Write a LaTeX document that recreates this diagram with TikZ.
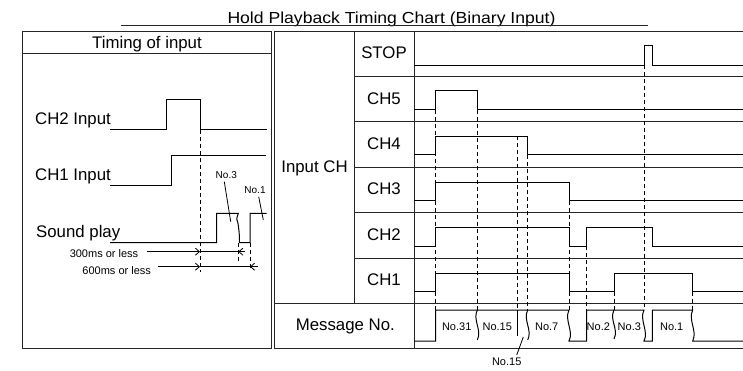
\documentclass[tikz,border=0pt]{standalone}
\usepackage{fontspec}
\setmainfont{Liberation Sans}
\newfontfamily\titlefont[FakeStretch=1.1]{Liberation Sans}
\usetikzlibrary{arrows.meta}
\begin{document}
\begin{tikzpicture}[x=1pt,y=-1pt,
  frame/.style={draw=black!85, line width=1pt},
  sig/.style={draw=black, line width=1pt},
  guide/.style={draw=black, line width=0.8pt, dash pattern=on 4pt off 3pt},
  lead/.style={draw=black, line width=0.8pt},
  big/.style={font=\fontsize{16.8}{18}\selectfont, inner sep=0pt, anchor=base},
  small/.style={font=\fontsize{11}{12}\selectfont, inner sep=0pt, anchor=base},
  tiny/.style={font=\fontsize{10}{11}\selectfont, inner sep=0pt, anchor=base},
  dim/.style={-{Straight Barb[length=4pt,width=7pt]}, line width=0.8pt},
]
\useasboundingbox (0,0) rectangle (743,371);

% title
\node[anchor=base, inner sep=0pt, font=\titlefont\fontsize{16}{18}\selectfont] (title) at (391.5,23.3) {Hold Playback Timing Chart (Binary Input)};
\draw[frame] (121,25.5) -- (648,25.5);

% left panel frame
\draw[frame] (22,31.7) rectangle (271.5,348.3);
\draw[frame] (22,53.3) -- (271.5,53.3);
\node[big] (timing) at (147,48.3) {Timing of input};

% right panel frame
\draw[frame] (743,31.7) -- (274.5,31.7) -- (274.5,348.3) -- (743,348.3);
\draw[frame] (354.3,31.7) -- (354.3,303.3);
\draw[frame] (414,31.7) -- (414,348.3);
\foreach \yy in {76.5,121.7,167.3,212.5,258.3}
  \draw[frame] (354.3,\yy) -- (743,\yy);
\draw[frame] (274.5,303.3) -- (743,303.3);

% right labels
\node[big] (inputch) at (314.5,172.7) {Input CH};
\node[big] (stop) at (384,58.3) {STOP};
\node[big] (ch5) at (384,104.3) {CH5};
\node[big] (ch4) at (384,149.3) {CH4};
\node[big] (ch3) at (384,195) {CH3};
\node[big] (ch2) at (384,240.3) {CH2};
\node[big] (ch1) at (384,285.7) {CH1};
\node[big] (msgno) at (345.3,330) {Message No.};

% left labels
\node[big, anchor=base west] (in2) at (35,124.3) {CH2 Input};
\node[big, anchor=base west] (in1) at (35,180.7) {CH1 Input};
\node[big, anchor=base west] (snd) at (36,237.3) {Sound play};
\node[small] (d300) at (104,257) {300ms or less};
\node[small] (d600) at (116.7,274) {600ms or less};
\node[tiny] (l3) at (226.3,178.3) {No.3};
\node[tiny] (l1) at (255,193.3) {No.1};

% left signals
\draw[sig] (110,130) -- (166,130) -- (166,99.3) -- (200,99.3) -- (200,130) -- (266.7,130);
\draw[sig] (110,186) -- (171,186) -- (171,156) -- (265.7,156);
\draw[sig] (110,242.7) -- (216.7,242.7) -- (216.7,213.3) -- (238.3,213.3)
  .. controls +(-3,9) and +(-1,-10) .. (238.5,227)
  .. controls +(1,8) and +(0,-6) .. (239.5,242.7)
  -- (250,242.7) -- (250,213.3) -- (266.7,213.3);
\draw[guide] (200,130) -- (200,271.7);
\draw[guide] (238.3,242.7) -- (238.3,262.3);
\draw[guide] (250,242.7) -- (250,270);
\draw[lead] (224.3,181.7) -- (230.7,221.7);
\draw[lead] (258.7,196.7) -- (263.3,220);

% dimension arrows
\draw[dim] (146.7,251.7) -- (200,251.7);
\draw[line width=0.8pt] (200,251.7) -- (238.3,251.7);
\draw[dim] (245,251.7) -- (238.3,251.7);
\draw[dim] (158.3,266.7) -- (200,266.7);
\draw[line width=0.8pt] (200,266.7) -- (250,266.7);
\draw[dim] (258.3,266.7) -- (250,266.7);

% dashed guides (right)
\foreach \xx/\ya in {435.7/110, 477.3/110, 517.3/136.3, 527.7/155, 569/200.7, 586.7/246, 614/291.7, 644/65.3, 692.7/291.7}
  \draw[guide] (\xx,\ya) -- (\xx,310);

% right signals
\draw[sig] (414,65.3) -- (644,65.3) -- (644,46) -- (652.3,46) -- (652.3,65.3) -- (743,65.3);
\draw[sig] (414,110) -- (435.7,110) -- (435.7,91) -- (477.3,91) -- (477.3,110) -- (743,110);
\draw[sig] (414,155) -- (435.7,155) -- (435.7,136.3) -- (527.7,136.3) -- (527.7,155) -- (743,155);
\draw[sig] (414,200.7) -- (435.7,200.7) -- (435.7,182.7) -- (569,182.7) -- (569,200.7) -- (743,200.7);
\draw[sig] (414,246) -- (435.7,246) -- (435.7,227.7) -- (569,227.7) -- (569,246) -- (586.7,246) -- (586.7,227.7) -- (652.3,227.7) -- (652.3,246) -- (743,246);
\draw[sig] (414,291.7) -- (435.7,291.7) -- (435.7,273.7) -- (569,273.7) -- (569,291.7) -- (614,291.7) -- (614,273.7) -- (692.7,273.7) -- (692.7,291.7) -- (743,291.7);

% message signal
\draw[sig] (414,341) -- (435.7,341) -- (435.7,310) -- (569,310)
  .. controls +(-5,10) and +(5,-10) .. (569,341)
  -- (586.7,341) -- (586.7,310) -- (644,310)
  .. controls +(-5,10) and +(5,-10) .. (644,341)
  -- (652.3,341) -- (652.3,310) -- (692.7,310)
  .. controls +(-5,10) and +(5,-10) .. (692.7,341)
  -- (743,341);
\draw[sig] (477.3,310) .. controls +(-5,10) and +(5,-10) .. (477.3,340);
\draw[sig] (527.7,310) .. controls +(-5,10) and +(5,-10) .. (527.7,340);
\draw[sig] (614,310) .. controls +(-5,10) and +(5,-10) .. (614,339);
\draw[sig] (517.3,310) -- (517.3,336);

% message labels
\node[small] (m31) at (456.7,330.5) {No.31};
\node[small] (m15) at (497.3,330.5) {No.15};
\node[small] (m7) at (546.7,330.5) {No.7};
\node[small] (m2) at (598.3,330.5) {No.2};
\node[small] (m3) at (629.3,330.5) {No.3};
\node[small] (m1) at (671.7,330.5) {No.1};
\node[small] (m15b) at (506.7,365) {No.15};
\draw[lead] (523.3,337) -- (516.7,355);
\end{tikzpicture}
\end{document}
